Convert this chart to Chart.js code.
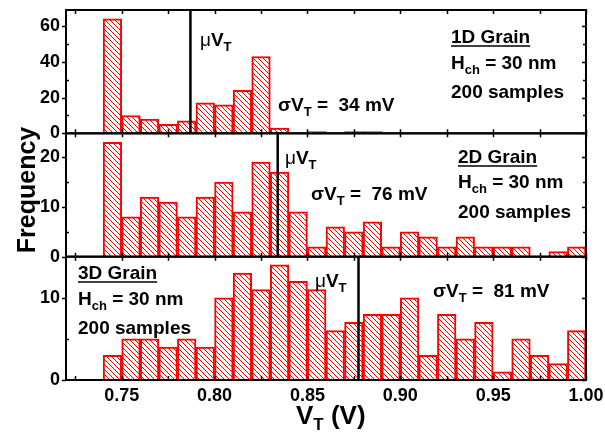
<!DOCTYPE html>
<html><head><meta charset="utf-8">
<script src="https://cdn.jsdelivr.net/npm/chart.js@4.4.1/dist/chart.umd.min.js"></script>
<style>html,body{margin:0;padding:0;background:#fff;}#wrap{width:605px;height:436px;position:relative;}</style>
</head><body><div id="wrap"><canvas id="c" width="605" height="436"></canvas></div>
<script>
// ---------- data ----------
const BIN_STARTS = [0.74,0.75,0.76,0.77,0.78,0.79,0.80,0.81,0.82,0.83,0.84,0.85,0.86,0.87,0.88,0.89,0.90,0.91,0.92,0.93,0.94,0.95,0.96,0.97,0.98,0.99];
const BIN_WIDTH = 0.01;
const FREQ_1D = [64,10,8,5,7,17,16,24,43,3,0,1,0,1,1,0,0,0,0,0,0,0,0,0,0,0];
const FREQ_2D = [23,8,12,11,8,12,15,9,19,17,9,2,6,5,7,2,5,4,2,4,2,2,2,0,1,2];
const FREQ_3D = [3,5,5,4,5,4,10,13,11,14,12,11,6,7,8,8,10,3,8,5,7,1,5,3,2,6];
const MEAN_VT = [0.787, 0.834, 0.8775];
const SIGMA_LABELS = ['34 mV', '76 mV', '81 mV'];
const GRAIN_LABELS = ['1D Grain', '2D Grain', '3D Grain'];
const X_TICKS = [0.75,0.80,0.85,0.90,0.95,1.00];
const X_MINOR = [0.725,0.775,0.825,0.875,0.925,0.975];
const Y_TICKS = [[0,20,40,60],[0,10,20],[0,10]];
const Y_MINOR = [[10,30,50],[5,15],[5]];
const Y_MAX = [69, 24.8, 15];
const X_MIN = 0.72, X_MAX = 1.00;

// ---------- styles ----------
const FAM = '"Liberation Sans", Arial, sans-serif';
const F_TXT = 'bold 19px ' + FAM;
const F_SUB = 'bold 13px ' + FAM;
const F_MU = '19px ' + FAM;
const RED = '#ff0000';

const canvas = document.getElementById('c');
const ctx = canvas.getContext('2d');

function makeHatch(){
  const n = 5;
  const c = document.createElement('canvas'); c.width = n; c.height = n;
  const g = c.getContext('2d');
  g.fillStyle = '#fff'; g.fillRect(0,0,n,n);
  g.strokeStyle = RED; g.lineWidth = 1;
  g.beginPath();
  g.moveTo(-1,-1); g.lineTo(n+1,n+1);
  g.moveTo(-1,n-1); g.lineTo(1,n+1);
  g.moveTo(n-1,-1); g.lineTo(n+1,1);
  g.stroke();
  return ctx.createPattern(c,'repeat');
}
const hatch = makeHatch();

const AX = ['y1','y2','y3'];
const FREQS = [FREQ_1D, FREQ_2D, FREQ_3D];

const datasets = [];
FREQS.forEach((f,i)=>{
  datasets.push({
    type:'bar', yAxisID: AX[i],
    data: BIN_STARTS.map((s,k)=>({x: s + BIN_WIDTH/2, y: f[k]})),
    backgroundColor: hatch, borderColor: RED, borderWidth: 2,
    barPercentage: 1, categoryPercentage: 1, grouped: false, order: 2
  });
});
MEAN_VT.forEach((m,i)=>{
  datasets.push({
    type:'line', yAxisID: AX[i],
    data: [{x:m, y:0},{x:m, y:Y_MAX[i]}],
    borderColor:'#000', borderWidth: 2.5, pointRadius: 0, fill:false, order: 1
  });
});

function yScale(i){
  return {
    type:'linear', stack:'panels', stackWeight:1, position:'left',
    min:0, max:Y_MAX[i], offset:false,
    grid:{display:false, drawTicks:false}, border:{display:false},
    ticks:{font:{family:FAM, size:18, weight:'bold'}, color:'#000', padding:6, autoSkip:false,
      callback:v=>String(v)},
    afterBuildTicks:s=>{ s.ticks = Y_TICKS[i].map(v=>({value:v})); },
    afterFit:s=>{ s.width = 66; s.paddingTop = 0; s.paddingBottom = 0; }
  };
}

// frames, ticks and texts
const decor = {
  id:'decor',
  afterDatasetsDraw(chart){
    const c = chart.ctx, ca = chart.chartArea, xs = chart.scales.x;
    c.save();
    c.strokeStyle = '#000';
    AX.forEach((id,i)=>{
      const ys = chart.scales[id];
      const t = ys.top, b = ys.bottom, l = ca.left, r = ca.right;
      c.lineWidth = 1.5;
      c.beginPath();
      [...X_TICKS, ...X_MINOR].forEach(v=>{
        const px = Math.round(xs.getPixelForValue(v)) + 0.5;
        c.moveTo(px, t); c.lineTo(px, t + 4);
        c.moveTo(px, b); c.lineTo(px, b - 4);
      });
      Y_TICKS[i].forEach(v=>{
        const py = Math.round(ys.getPixelForValue(v)) + 0.5;
        c.moveTo(l - 4, py); c.lineTo(l, py);
        c.moveTo(r, py); c.lineTo(r - 4, py);
      });
      Y_MINOR[i].forEach(v=>{
        const py = Math.round(ys.getPixelForValue(v)) + 0.5;
        c.moveTo(l, py); c.lineTo(l + 3, py);
        c.moveTo(r, py); c.lineTo(r - 3, py);
      });
      c.stroke();
      c.lineWidth = 2;
      c.strokeRect(l, t, r - l, b - t);
    });
    c.restore();
  },
  afterDraw(chart){
    const c = chart.ctx;
    c.save();
    c.fillStyle = '#000'; c.strokeStyle = '#000';
    c.textBaseline = 'alphabetic'; c.textAlign = 'left';
    function rich(x, y, parts){
      let cx = x;
      parts.forEach(p=>{ c.font = p[1]; c.fillText(p[0], cx, y + (p[2]||0)); cx += c.measureText(p[0]).width; });
      return cx - x;
    }
    const muV = (x,y)=>rich(x,y,[['\u03bc',F_MU],['V',F_TXT],['T',F_SUB,5]]);
    const sigV = (x,y,s)=>rich(x,y,[['\u03c3',F_TXT],['V',F_TXT],['T',F_SUB,5],[' =  '+s,F_TXT]]);
    const info = (x,y0,y1,y2,g)=>{
      const w = rich(x,y0,[[g,F_TXT]]);
      c.lineWidth = 1.6; c.beginPath(); c.moveTo(x, y0+3); c.lineTo(x+w, y0+3); c.stroke();
      rich(x,y1,[['H',F_TXT],['ch',F_SUB,5],[' = 30 nm',F_TXT]]);
      rich(x,y2,[['200 samples',F_TXT]]);
    };
    // panel 1
    muV(200, 46);
    sigV(278, 111, SIGMA_LABELS[0]);
    info(451, 43, 69, 98, GRAIN_LABELS[0]);
    // panel 2
    muV(285, 164);
    sigV(311, 200, SIGMA_LABELS[1]);
    info(458, 163, 188, 218, GRAIN_LABELS[1]);
    // panel 3
    muV(315, 287);
    sigV(433, 297, SIGMA_LABELS[2]);
    info(78, 279, 305, 334, GRAIN_LABELS[2]);
    // axis titles
    rich(296, 424, [['V','bold 26px '+FAM],['T','bold 17px '+FAM,6],[' (V)','bold 26px '+FAM]]);
    c.save();
    c.translate(35, 190); c.rotate(-Math.PI/2);
    c.font = 'bold 25px ' + FAM; c.textAlign = 'center';
    c.fillText('Frequency', 0, 0);
    c.restore();
    c.restore();
  }
};

new Chart(ctx, {
  data:{datasets},
  options:{
    responsive:false, animation:false,
    layout:{padding:{left:0, right:19, top:10, bottom:0}},
    plugins:{legend:{display:false}, tooltip:{enabled:false}},
    scales:{
      x:{type:'linear', min:X_MIN, max:X_MAX, offset:false, position:'bottom',
        grid:{display:false, drawTicks:false}, border:{display:false},
        ticks:{font:{family:FAM, size:18, weight:'bold'}, color:'#000', padding:5, maxRotation:0, autoSkip:false,
          callback:v=>Number(v).toFixed(2)},
        afterBuildTicks:s=>{ s.ticks = X_TICKS.map(v=>({value:v})); },
        afterFit:s=>{ s.height = 56; s.paddingLeft = 0; s.paddingRight = 0; }
      },
      y3: yScale(2),
      y2: yScale(1),
      y1: yScale(0)
    }
  },
  plugins:[decor]
});
</script>
</body></html>
